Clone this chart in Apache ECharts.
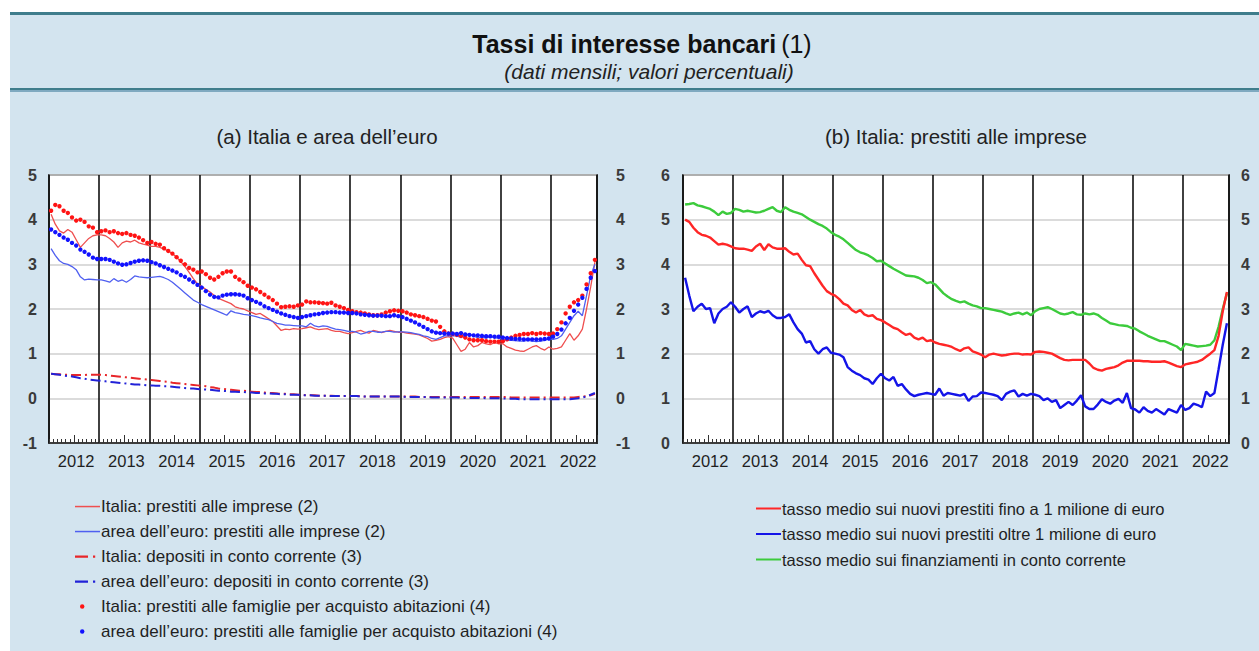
<!DOCTYPE html>
<html>
<head>
<meta charset="utf-8">
<script src="https://cdn.jsdelivr.net/npm/echarts/dist/echarts.min.js"></script>
<style>
html,body{margin:0;padding:0;background:#ffffff;}
#chart{width:1259px;height:651px;}
</style>
</head>
<body>
<div id="chart"></div>
<script>
// ---------- categories ----------
const years = ['2012','2013','2014','2015','2016','2017','2018','2019','2020','2021','2022'];
const monthsPerYear = [12,12,12,12,12,12,12,12,12,12,11];
const yTicksA = [-1,0,1,2,3,4,5];
const yTicksB = [0,1,2,3,4,5,6];

// ---------- panel (a): Italia e area dell'euro ----------
const itFirms = [
  4.12,3.90,3.75,3.70,3.78,3.72,3.55,3.38,3.48,3.58,3.64,3.66,
  3.66,3.64,3.58,3.50,3.38,3.48,3.52,3.50,3.54,3.48,3.45,3.43,
  3.40,3.40,3.38,3.34,3.30,3.24,3.16,3.06,2.95,2.82,2.68,2.56,
  2.50,2.44,2.38,2.30,2.24,2.20,2.16,2.12,2.05,2.02,2.00,1.96,
  1.92,1.88,1.90,1.84,1.78,1.72,1.62,1.52,1.55,1.54,1.56,1.55,
  1.56,1.58,1.60,1.56,1.54,1.55,1.56,1.52,1.50,1.50,1.47,1.45,
  1.47,1.50,1.52,1.48,1.46,1.52,1.50,1.47,1.50,1.52,1.50,1.48,
  1.48,1.46,1.45,1.44,1.42,1.38,1.34,1.28,1.30,1.32,1.36,1.38,
  1.35,1.20,1.05,1.10,1.25,1.15,1.18,1.25,1.22,1.20,1.25,1.22,
  1.22,1.15,1.12,1.08,1.06,1.05,1.10,1.15,1.18,1.12,1.08,1.15,
  1.10,1.12,1.15,1.30,1.45,1.30,1.40,1.55,2.00,2.50,3.05
];
const euFirms = [
  3.35,3.20,3.08,3.02,3.00,2.95,2.88,2.72,2.65,2.67,2.66,2.65,
  2.65,2.63,2.60,2.68,2.62,2.65,2.60,2.66,2.74,2.72,2.71,2.70,
  2.71,2.72,2.73,2.70,2.66,2.60,2.52,2.44,2.36,2.28,2.20,2.15,
  2.10,2.06,2.02,1.98,1.94,1.90,1.86,1.96,1.92,1.90,1.88,1.87,
  1.85,1.83,1.80,1.78,1.76,1.72,1.68,1.66,1.64,1.64,1.63,1.62,
  1.62,1.60,1.68,1.62,1.60,1.62,1.61,1.58,1.55,1.54,1.52,1.50,
  1.50,1.48,1.44,1.46,1.50,1.50,1.48,1.48,1.50,1.50,1.48,1.49,
  1.49,1.48,1.47,1.45,1.43,1.40,1.38,1.34,1.32,1.36,1.40,1.40,
  1.40,1.40,1.36,1.42,1.44,1.40,1.35,1.37,1.35,1.38,1.36,1.34,
  1.32,1.30,1.30,1.29,1.28,1.28,1.30,1.28,1.27,1.28,1.30,1.33,
  1.32,1.34,1.40,1.55,1.70,1.85,1.95,1.85,2.30,2.75,3.00
];
const itDeposits = [
  0.55,0.54,0.54,0.53,0.53,0.52,0.52,0.52,0.52,0.53,0.53,0.53,
  0.53,0.52,0.51,0.50,0.49,0.48,0.47,0.46,0.45,0.44,0.43,0.42,
  0.41,0.40,0.39,0.38,0.37,0.35,0.34,0.33,0.32,0.31,0.30,0.29,
  0.28,0.27,0.25,0.24,0.22,0.21,0.20,0.19,0.18,0.17,0.17,0.16,
  0.15,0.14,0.14,0.13,0.12,0.12,0.11,0.10,0.10,0.09,0.09,0.08,
  0.08,0.07,0.07,0.07,0.06,0.06,0.06,0.06,0.05,0.05,0.05,0.05,
  0.05,0.05,0.05,0.04,0.04,0.04,0.04,0.04,0.04,0.04,0.04,0.04,
  0.04,0.04,0.04,0.04,0.03,0.03,0.03,0.03,0.03,0.03,0.03,0.03,
  0.03,0.03,0.03,0.03,0.03,0.03,0.03,0.03,0.03,0.03,0.03,0.03,
  0.03,0.03,0.02,0.02,0.02,0.02,0.02,0.02,0.02,0.02,0.02,0.02,
  0.02,0.02,0.02,0.02,0.02,0.02,0.03,0.04,0.05,0.07,0.10
];
const euDeposits = [
  0.55,0.54,0.53,0.51,0.50,0.49,0.47,0.45,0.44,0.42,0.41,0.40,
  0.39,0.38,0.37,0.36,0.35,0.34,0.33,0.32,0.31,0.31,0.30,0.29,
  0.29,0.28,0.28,0.27,0.27,0.26,0.25,0.24,0.23,0.22,0.22,0.21,
  0.20,0.20,0.19,0.18,0.17,0.17,0.16,0.15,0.15,0.14,0.14,0.13,
  0.13,0.12,0.12,0.11,0.11,0.10,0.10,0.09,0.09,0.08,0.08,0.08,
  0.07,0.07,0.07,0.06,0.06,0.06,0.06,0.05,0.05,0.05,0.05,0.05,
  0.05,0.05,0.04,0.04,0.04,0.04,0.04,0.04,0.04,0.04,0.04,0.04,
  0.04,0.03,0.03,0.03,0.03,0.03,0.03,0.02,0.02,0.02,0.02,0.02,
  0.02,0.02,0.01,0.01,0.01,0.01,0.01,0.01,0.00,0.00,0.00,0.00,
  0.00,-0.01,-0.01,-0.01,-0.02,-0.02,-0.02,-0.02,-0.02,-0.02,-0.02,-0.02,
  -0.02,-0.02,-0.02,-0.02,-0.02,-0.01,0.00,0.02,0.04,0.08,0.12
];
const itHouse = [
  4.20,4.33,4.30,4.20,4.15,4.05,3.98,4.00,3.95,3.85,3.82,3.72,
  3.74,3.76,3.72,3.74,3.70,3.68,3.70,3.66,3.64,3.60,3.54,3.48,
  3.50,3.46,3.44,3.36,3.30,3.24,3.16,3.08,3.00,2.92,2.88,2.82,
  2.84,2.78,2.70,2.66,2.72,2.80,2.84,2.84,2.72,2.66,2.60,2.52,
  2.48,2.44,2.38,2.32,2.26,2.20,2.12,2.04,2.05,2.06,2.05,2.08,
  2.10,2.17,2.15,2.15,2.14,2.13,2.12,2.14,2.08,2.05,2.02,1.98,
  1.95,1.93,1.92,1.90,1.88,1.86,1.86,1.88,1.92,1.95,1.97,1.96,
  1.95,1.92,1.88,1.86,1.84,1.82,1.78,1.74,1.72,1.60,1.50,1.45,
  1.44,1.42,1.40,1.36,1.32,1.30,1.30,1.30,1.28,1.27,1.27,1.27,
  1.28,1.32,1.36,1.40,1.42,1.44,1.44,1.46,1.44,1.46,1.45,1.44,
  1.45,1.55,1.70,1.90,2.05,2.15,2.20,2.30,2.55,2.80,3.10
];
const euHouse = [
  3.78,3.72,3.66,3.60,3.55,3.48,3.42,3.33,3.28,3.22,3.15,3.12,
  3.12,3.12,3.10,3.06,3.02,2.99,3.00,3.03,3.06,3.08,3.09,3.08,
  3.05,3.02,2.98,2.94,2.90,2.86,2.82,2.76,2.72,2.66,2.60,2.54,
  2.48,2.40,2.32,2.27,2.26,2.30,2.32,2.33,2.33,2.32,2.30,2.24,
  2.20,2.16,2.12,2.06,2.02,1.98,1.94,1.90,1.87,1.84,1.82,1.80,
  1.82,1.84,1.86,1.88,1.89,1.91,1.92,1.93,1.93,1.92,1.92,1.91,
  1.91,1.90,1.88,1.87,1.86,1.85,1.85,1.85,1.84,1.84,1.86,1.84,
  1.82,1.78,1.74,1.70,1.65,1.60,1.55,1.50,1.47,1.46,1.45,1.45,
  1.45,1.44,1.46,1.43,1.42,1.41,1.41,1.40,1.39,1.39,1.38,1.38,
  1.36,1.35,1.34,1.33,1.33,1.32,1.32,1.32,1.32,1.32,1.33,1.34,
  1.38,1.44,1.54,1.68,1.80,1.96,2.10,2.25,2.45,2.70,2.85
];

// ---------- panel (b): Italia, prestiti alle imprese ----------
const smallLoans = [
  5.00,4.95,4.82,4.72,4.66,4.64,4.60,4.52,4.44,4.46,4.44,4.40,
  4.36,4.35,4.35,4.33,4.30,4.40,4.46,4.32,4.45,4.38,4.35,4.35,
  4.36,4.28,4.22,4.24,4.10,3.98,3.96,3.80,3.66,3.52,3.40,3.34,
  3.30,3.22,3.12,3.08,2.98,2.92,2.98,2.88,2.84,2.86,2.78,2.75,
  2.70,2.64,2.58,2.55,2.48,2.42,2.45,2.36,2.32,2.36,2.28,2.30,
  2.25,2.22,2.20,2.18,2.15,2.10,2.06,2.12,2.14,2.05,2.02,1.98,
  1.92,1.98,2.00,1.98,1.96,1.97,1.99,2.00,2.00,1.98,1.99,1.98,
  2.04,2.05,2.04,2.02,2.00,1.95,1.90,1.86,1.85,1.86,1.86,1.86,
  1.86,1.78,1.68,1.64,1.62,1.66,1.68,1.70,1.74,1.80,1.84,1.84,
  1.84,1.84,1.83,1.83,1.82,1.82,1.82,1.83,1.80,1.76,1.72,1.70,
  1.76,1.78,1.80,1.82,1.86,1.93,2.00,2.08,2.40,2.95,3.38
];
const largeLoans = [
  3.70,3.30,2.95,3.05,3.12,3.00,3.02,2.68,2.90,3.00,3.05,3.15,
  3.05,2.92,3.00,3.06,2.82,2.90,2.95,2.92,2.96,2.86,2.80,2.80,
  2.82,2.88,2.70,2.55,2.45,2.25,2.28,2.10,2.00,2.10,2.14,2.02,
  2.00,1.98,1.92,1.70,1.62,1.56,1.52,1.45,1.42,1.32,1.45,1.55,
  1.45,1.40,1.48,1.28,1.32,1.20,1.10,1.05,1.08,1.10,1.12,1.10,
  1.08,1.22,1.06,1.12,1.10,1.08,1.06,1.10,0.94,1.04,1.05,1.13,
  1.12,1.10,1.08,1.05,0.96,1.10,1.15,1.18,1.04,1.10,1.06,1.10,
  1.08,1.05,0.96,1.00,0.92,0.96,0.78,0.85,0.92,0.85,0.95,1.07,
  0.82,0.76,0.76,0.86,0.98,0.92,0.88,0.95,0.99,0.90,1.12,0.78,
  0.75,0.68,0.80,0.72,0.68,0.76,0.70,0.64,0.76,0.72,0.68,0.85,
  0.74,0.78,0.88,0.85,0.80,1.15,1.05,1.12,1.65,2.20,2.68
];
const overdraft = [
  5.34,5.35,5.37,5.32,5.30,5.27,5.24,5.18,5.10,5.18,5.13,5.15,
  5.24,5.22,5.18,5.20,5.18,5.16,5.17,5.20,5.24,5.28,5.20,5.17,
  5.28,5.22,5.18,5.15,5.12,5.06,5.00,4.95,4.90,4.86,4.80,4.72,
  4.66,4.62,4.56,4.48,4.40,4.32,4.27,4.24,4.20,4.14,4.07,4.08,
  4.02,3.96,3.90,3.85,3.80,3.75,3.74,3.73,3.70,3.65,3.58,3.60,
  3.55,3.45,3.35,3.28,3.22,3.18,3.15,3.17,3.12,3.08,3.06,3.02,
  3.02,3.00,2.98,2.96,2.94,2.90,2.87,2.90,2.92,2.88,2.92,2.86,
  2.95,3.00,3.02,3.04,3.00,2.95,2.90,2.88,2.90,2.93,2.88,2.87,
  2.90,2.88,2.90,2.87,2.80,2.74,2.68,2.66,2.64,2.63,2.62,2.58,
  2.56,2.50,2.45,2.40,2.36,2.32,2.28,2.28,2.24,2.20,2.16,2.08,
  2.22,2.20,2.18,2.16,2.17,2.18,2.20,2.30,2.60,3.00,3.35
];

// ---------- series names ----------
const namesA = [
  'Italia: prestiti alle imprese (2)',
  'area dell’euro: prestiti alle imprese (2)',
  'Italia: depositi in conto corrente (3)',
  'area dell’euro: depositi in conto corrente (3)',
  'Italia: prestiti alle famiglie per acquisto abitazioni (4)',
  'area dell’euro: prestiti alle famiglie per acquisto abitazioni (4)'
];
const namesB = [
  'tasso medio sui nuovi prestiti fino a 1 milione di euro',
  'tasso medio sui nuovi prestiti oltre 1 milione di euro',
  'tasso medio sui finanziamenti in conto corrente'
];

// month categories built from the year list
const months = [];
years.forEach((y, i) => { for (let m = 1; m <= monthsPerYear[i]; m++) months.push(y + '-' + (m < 10 ? '0' + m : m)); });

const FONT = '"Liberation Sans", Arial, Helvetica, sans-serif';
const chart = echarts.init(document.getElementById('chart'), null, {renderer: 'svg'});

function xAxesFor(gridIndex) {
  return [
    {
      type: 'category', gridIndex, data: months, boundaryGap: true, position: 'bottom',
      axisLine: {show: true, onZero: false, lineStyle: {color: '#1a1a1a', width: 1.5}},
      axisTick: {show: true, inside: true, length: 4, interval: 0, lineStyle: {color: '#333', width: 1}},
      axisLabel: {
        show: true, interval: (i) => i % 12 === 6, margin: 9,
        fontFamily: FONT, fontSize: 16.5, color: '#1f1f1f',
        formatter: (v) => v.slice(0, 4)
      },
      splitLine: {show: true, interval: (i) => i % 12 === 0, lineStyle: {color: '#111', width: 1.6}}
    },
    {
      type: 'category', gridIndex, data: months, boundaryGap: true, position: 'bottom',
      axisLine: {show: false, onZero: false},
      axisTick: {show: true, inside: true, length: 8, interval: (i) => i % 12 === 6, lineStyle: {color: '#333', width: 1}},
      axisLabel: {show: false},
      splitLine: {show: false}
    }
  ];
}
function yAxesFor(gridIndex, min, max, leftMargin, rightMargin) {
  const lbl = {fontFamily: FONT, fontSize: 16, fontWeight: 'bold', color: '#3a3a3a'};
  return [
    {
      type: 'value', gridIndex, min, max, interval: 1, position: 'left',
      axisLine: {show: true, onZero: false, lineStyle: {color: '#1a1a1a', width: 1.5}},
      axisTick: {show: false},
      axisLabel: Object.assign({margin: leftMargin}, lbl),
      splitLine: {show: true, lineStyle: {color: '#cfcfcf', width: 1.6}}
    },
    {
      type: 'value', gridIndex, min, max, interval: 1, position: 'right',
      axisLine: {show: true, onZero: false, lineStyle: {color: '#1a1a1a', width: 1.5}},
      axisTick: {show: false},
      axisLabel: Object.assign({margin: rightMargin}, lbl),
      splitLine: {show: false}
    }
  ];
}

const ICON_LINE = 'path://M0,0M25,12M0,5.3h25v1.5h-25z';
const ICON_LINE_B = 'path://M0,0M25,12M0,5h25v2h-25z';
const ICON_DASHDOT = 'path://M0,0M25,12M0,5h13v2.2h-13zM18,5h2.2v2.2h-2.2z';
const ICON_DOT = 'path://M0,0M25,12M5,6a2.2,2.2 0 1,0 4.4,0a2.2,2.2 0 1,0 -4.4,0z';

function lineSeries(name, data, color, width, xi, yi, type) {
  return {
    name, type: 'line', data, xAxisIndex: xi, yAxisIndex: yi,
    color, showSymbol: false, symbol: 'none', smooth: false,
    lineStyle: {color, width, type: type || 'solid'},
    silent: true, animation: false
  };
}
function dotSeries(name, data, color, xi, yi) {
  return {
    name, type: 'line', data, xAxisIndex: xi, yAxisIndex: yi,
    color, symbol: 'circle', symbolSize: 4.4, showSymbol: true, showAllSymbol: true,
    lineStyle: {width: 0, opacity: 0},
    itemStyle: {color, borderWidth: 0},
    silent: true, animation: false
  };
}

const cRedThin = '#ef4f4f', cBlueThin = '#4f5ff0';
const cRedDep = '#e8262a', cBlueDep = '#2222d8';
const cRedDot = '#ff1414', cBlueDot = '#1212ff';
const cRedB = '#ff2626', cBlueB = '#1414e8', cGreenB = '#3ccb3c';

const legendText = {fontFamily: FONT, color: '#1f1f1f', lineHeight: 17, padding: [0, 0, 0, -4]};

const option = {
  animation: false,
  backgroundColor: '#ffffff',
  graphic: [
    {type: 'rect', silent: true, z: -10, shape: {x: 10, y: 12, width: 1249, height: 639}, style: {fill: '#d3e4ef'}},
    {type: 'rect', silent: true, z: -9, shape: {x: 10, y: 12, width: 1249, height: 3}, style: {fill: '#3f7d8c'}},
    {type: 'rect', silent: true, z: -9, shape: {x: 10, y: 88, width: 1249, height: 2}, style: {fill: '#3f7d8c'}},
    {type: 'rect', silent: true, z: -9, shape: {x: 10, y: 90, width: 1249, height: 2}, style: {fill: '#7fa9c0'}}
  ],
  title: [
    {
      text: '{b|Tassi di interesse bancari} {n|(1)}', left: 637, top: 26, textAlign: 'center',
      textStyle: {rich: {
        b: {fontFamily: FONT, fontSize: 25, fontWeight: 'bold', color: '#111'},
        n: {fontFamily: FONT, fontSize: 25, fontWeight: 'normal', color: '#111'}
      }}
    },
    {
      text: '(dati mensili; valori percentuali)', left: 644, top: 56, textAlign: 'center',
      textStyle: {fontFamily: FONT, fontSize: 21, fontStyle: 'italic', fontWeight: 'normal', color: '#222'}
    },
    {
      text: '(a) Italia e area dell’euro', left: 322, top: 121, textAlign: 'center',
      textStyle: {fontFamily: FONT, fontSize: 20.5, fontWeight: 'normal', color: '#222'}
    },
    {
      text: '(b) Italia: prestiti alle imprese', left: 951, top: 121, textAlign: 'center',
      textStyle: {fontFamily: FONT, fontSize: 20.5, fontWeight: 'normal', color: '#222'}
    }
  ],
  grid: [
    {left: 49, top: 175, width: 548, height: 268, show: true, backgroundColor: '#ffffff', borderColor: '#1a1a1a', borderWidth: 1.5, containLabel: false, outerBoundsMode: 'none'},
    {left: 683, top: 175, width: 546, height: 268, show: true, backgroundColor: '#ffffff', borderColor: '#1a1a1a', borderWidth: 1.5, containLabel: false, outerBoundsMode: 'none'}
  ],
  xAxis: [].concat(xAxesFor(0), xAxesFor(1)),
  yAxis: [].concat(
    yAxesFor(0, yTicksA[0], yTicksA[yTicksA.length - 1], 12, 19),
    yAxesFor(1, yTicksB[0], yTicksB[yTicksB.length - 1], 13, 12)
  ),
  legend: [
    {
      orient: 'vertical', left: 75, top: 498, padding: 0, itemGap: 8, itemWidth: 25, itemHeight: 12,
      selectedMode: false, symbolKeepAspect: false,
      itemStyle: {borderWidth: 0},
      textStyle: Object.assign({fontSize: 17}, legendText),
      data: [
        {name: namesA[0], icon: ICON_LINE},
        {name: namesA[1], icon: ICON_LINE},
        {name: namesA[2], icon: ICON_DASHDOT},
        {name: namesA[3], icon: ICON_DASHDOT},
        {name: namesA[4], icon: ICON_DOT},
        {name: namesA[5], icon: ICON_DOT}
      ]
    },
    {
      orient: 'vertical', left: 756, top: 500, padding: 0, itemGap: 8.5, itemWidth: 25, itemHeight: 12,
      selectedMode: false, symbolKeepAspect: false,
      itemStyle: {borderWidth: 0},
      textStyle: Object.assign({fontSize: 16.5}, legendText),
      data: [
        {name: namesB[0], icon: ICON_LINE_B},
        {name: namesB[1], icon: ICON_LINE_B},
        {name: namesB[2], icon: ICON_LINE_B}
      ]
    }
  ],
  series: [
    lineSeries(namesA[2], itDeposits, cRedDep, 2, 0, 0, [10, 4, 2, 4]),
    lineSeries(namesA[3], euDeposits, cBlueDep, 2, 0, 0, [10, 4, 2, 4]),
    lineSeries(namesA[0], itFirms, cRedThin, 1.3, 0, 0),
    lineSeries(namesA[1], euFirms, cBlueThin, 1.3, 0, 0),
    dotSeries(namesA[4], itHouse, cRedDot, 0, 0),
    dotSeries(namesA[5], euHouse, cBlueDot, 0, 0),
    lineSeries(namesB[2], overdraft, cGreenB, 2.4, 2, 2),
    lineSeries(namesB[0], smallLoans, cRedB, 2.4, 2, 2),
    lineSeries(namesB[1], largeLoans, cBlueB, 2.4, 2, 2)
  ]
};
chart.setOption(option);
</script>
</body>
</html>
